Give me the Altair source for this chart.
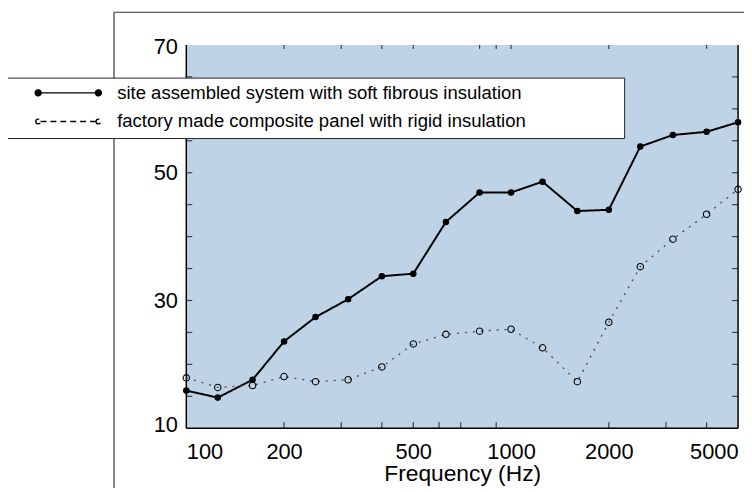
import altair as alt
import pandas as pd

# ---- data ----
freq_hz = [100, 125, 160, 200, 250, 315, 400, 500, 630, 800, 1000, 1250, 1600, 2000, 2500, 3150, 4000, 5000]
sri_site = [15.9, 14.8, 17.6, 23.6, 27.4, 30.2, 33.8, 34.2, 42.3, 46.9, 46.9, 48.6, 44.0, 44.2, 54.1, 55.9, 56.4, 57.9]
sri_factory = [17.9, 16.4, 16.7, 18.1, 17.3, 17.6, 19.6, 23.2, 24.7, 25.2, 25.5, 22.6, 17.3, 26.6, 35.3, 39.6, 43.5, 47.4]
series_names = [
    "site assembled system with soft fibrous insulation",
    "factory made composite panel with rigid insulation",
]
x_tick_labels = [100, 200, 500, 1000, 2000, 5000]
x_ticks_bottom = [200, 300, 400, 500, 600, 700, 900, 2000, 3000, 4000]
x_ticks_top = [200, 300, 400, 500, 800, 900, 1000, 2000, 4000]
y_tick_labels = [10, 30, 50, 70]
y_ticks = [15, 20, 25, 30, 35, 40, 45, 50, 55, 60, 65]

df = pd.DataFrame({
    "freq": freq_hz * 2,
    "sri": sri_site + sri_factory,
    "series": [series_names[0]] * len(freq_hz) + [series_names[1]] * len(freq_hz),
})
legend_df = pd.DataFrame({"series": series_names})
one_df = pd.DataFrame({"k": [0]})
xb_df = pd.DataFrame({"f": x_ticks_bottom})
xt_df = pd.DataFrame({"f": x_ticks_top})
yt_df = pd.DataFrame({"v": y_ticks})

W, H = 557, 387
FONT = "Liberation Sans"
BG = "#bfd3e6"

xscale = alt.Scale(type="log", domain=[100, 5000], nice=False)
yscale = alt.Scale(domain=[10, 70], nice=False, zero=False)
is_site = alt.datum.series == series_names[0]

# one shared axis definition per channel, used identically by every layer
x_axis = alt.Axis(orient="bottom", values=x_tick_labels, format="d", labelFlush=True,
                  ticks=False, domain=False, labelFontSize=22, labelPadding=14,
                  grid=False,
                  title="Frequency (Hz)", titleFontSize=23, titleFontWeight="normal",
                  titleBaseline="alphabetic", titleY=53)
y_axis = alt.Axis(orient="left", values=y_tick_labels, ticks=False, domain=False,
                  labelFontSize=22, labelPadding=9,
                  labelFlush=True, labelFlushOffset=8, grid=False,
                  title="SRI(dB)", titleFontSize=25, titleFontWeight="normal",
                  titleAngle=270, titleAlign="center", titleBaseline="middle",
                  titleX=246, titleY=197)

x_main = alt.X("freq:Q", scale=xscale, axis=x_axis)
y_main = alt.Y("sri:Q", scale=yscale, axis=y_axis)

# plot-area background panel
panel = alt.Chart(one_df).mark_rect(color=BG).encode(
    x=alt.value(0), x2=alt.value(W), y=alt.value(0), y2=alt.value(H))

# inward minor ticks on all four sides, placed by the scales
tick_bottom = alt.Chart(xb_df).mark_tick(orient="vertical", size=6, thickness=1.2, color="black").encode(
    x=alt.X("f:Q", scale=xscale, axis=x_axis), y=alt.value(H - 3))
tick_top = alt.Chart(xt_df).mark_tick(orient="vertical", size=4, thickness=1.2, color="black").encode(
    x=alt.X("f:Q", scale=xscale, axis=x_axis), y=alt.value(2))
tick_left = alt.Chart(yt_df).mark_tick(orient="horizontal", size=6, thickness=1.2, color="black").encode(
    y=alt.Y("v:Q", scale=yscale, axis=y_axis), x=alt.value(3))
tick_right = alt.Chart(yt_df).mark_tick(orient="horizontal", size=6, thickness=1.2, color="black").encode(
    y=alt.Y("v:Q", scale=yscale, axis=y_axis), x=alt.value(W - 3))

# plot box edges (left, bottom, right; the source has no top edge line)
edge_right = alt.Chart(one_df).mark_rule(color="black", strokeWidth=1.5, clip=False).encode(
    x=alt.value(W), y=alt.value(0), y2=alt.value(H))
edge_left = alt.Chart(one_df).mark_rule(color="black", strokeWidth=1.5, clip=False).encode(
    x=alt.value(0), y=alt.value(0), y2=alt.value(H))
edge_bottom = alt.Chart(one_df).mark_rule(color="black", strokeWidth=1.5, clip=False).encode(
    x=alt.value(0), x2=alt.value(W), y=alt.value(H))

lines = alt.Chart(df).mark_line(clip=False).encode(
    x=x_main, y=y_main, detail="series:N",
    color=alt.condition(is_site, alt.value("black"), alt.value("#4a4a4a")),
    strokeWidth=alt.condition(is_site, alt.value(2.0), alt.value(1.3)),
    strokeDash=alt.condition(is_site, alt.value([1, 0]), alt.value([2, 6])),
)

points = alt.Chart(df).mark_point(shape="circle", clip=False, opacity=1).encode(
    x=x_main, y=y_main,
    color=alt.value("black"),
    fill=alt.condition(is_site, alt.value("black"), alt.value("transparent")),
    size=alt.condition(is_site, alt.value(30), alt.value(42)),
    strokeWidth=alt.value(1.1),
)

# legend (symbol = line with markers at both ends); final "M69,0" only widens the box
path_site = ("M-3.8,0L3.8,0"
             "M-4.175,0A0.375,0.375,0,1,0,-3.425,0A0.375,0.375,0,1,0,-4.175,0"
             "M3.425,0A0.375,0.375,0,1,0,4.175,0A0.375,0.375,0,1,0,3.425,0"
             "M69,0")
path_fact = ("M-3.5,0L3.5,0"
             "M-4.1,0A0.3,0.3,0,1,0,-3.5,0A0.3,0.3,0,1,0,-4.1,0"
             "M3.5,0A0.3,0.3,0,1,0,4.1,0A0.3,0.3,0,1,0,3.5,0"
             "M69,0")
leg = alt.Legend(
    title=None, orient="none", legendX=-182, legendY=33, padding=6,
    fillColor="white", strokeColor="#222",
    labelFontSize=18.7, labelFont=FONT, labelColor="black", labelLimit=900,
    symbolSize=256, symbolOffset=47.5, labelOffset=40, rowPadding=9,
    symbolStrokeWidth=1.4, symbolOpacity=1,
)
legend_layer = alt.Chart(legend_df).mark_point(filled=False, color="black").transform_filter("false").encode(
    shape=alt.Shape("series:N", scale=alt.Scale(domain=series_names, range=[path_site, path_fact]), legend=leg),
    strokeDash=alt.StrokeDash("series:N", scale=alt.Scale(domain=series_names, range=[[1, 0], [6, 4]]), legend=leg),
    fill=alt.Fill("series:N", scale=alt.Scale(domain=series_names, range=["black", "white"]), legend=leg),
    stroke=alt.Stroke("series:N", scale=alt.Scale(domain=series_names, range=["black", "black"]), legend=leg),
)

# outer figure frame (top and left border lines of the source figure)
frame_top = alt.Chart(one_df).mark_rule(color="#333", strokeWidth=1.2, clip=False).encode(
    x=alt.value(-73), x2=alt.value(W + 20), y=alt.value(-33))
frame_left = alt.Chart(one_df).mark_rule(color="#333", strokeWidth=1.2, clip=False).encode(
    x=alt.value(-73), y=alt.value(-33), y2=alt.value(H + 70))

chart = alt.layer(
    panel, frame_top, frame_left, tick_bottom, tick_top, tick_left, tick_right,
    edge_left, edge_bottom, edge_right, lines, points, legend_layer
).properties(
    width=W, height=H,
    padding={"left": 180, "top": 35, "right": 6, "bottom": 58},
    autosize=alt.AutoSizeParams(type="none"),
).configure_view(
    stroke=None
).configure_axis(
    labelFont=FONT, titleFont=FONT, labelColor="black", titleColor="black"
)

chart.save("out.html", embed_options={"renderer": "svg", "actions": False})
